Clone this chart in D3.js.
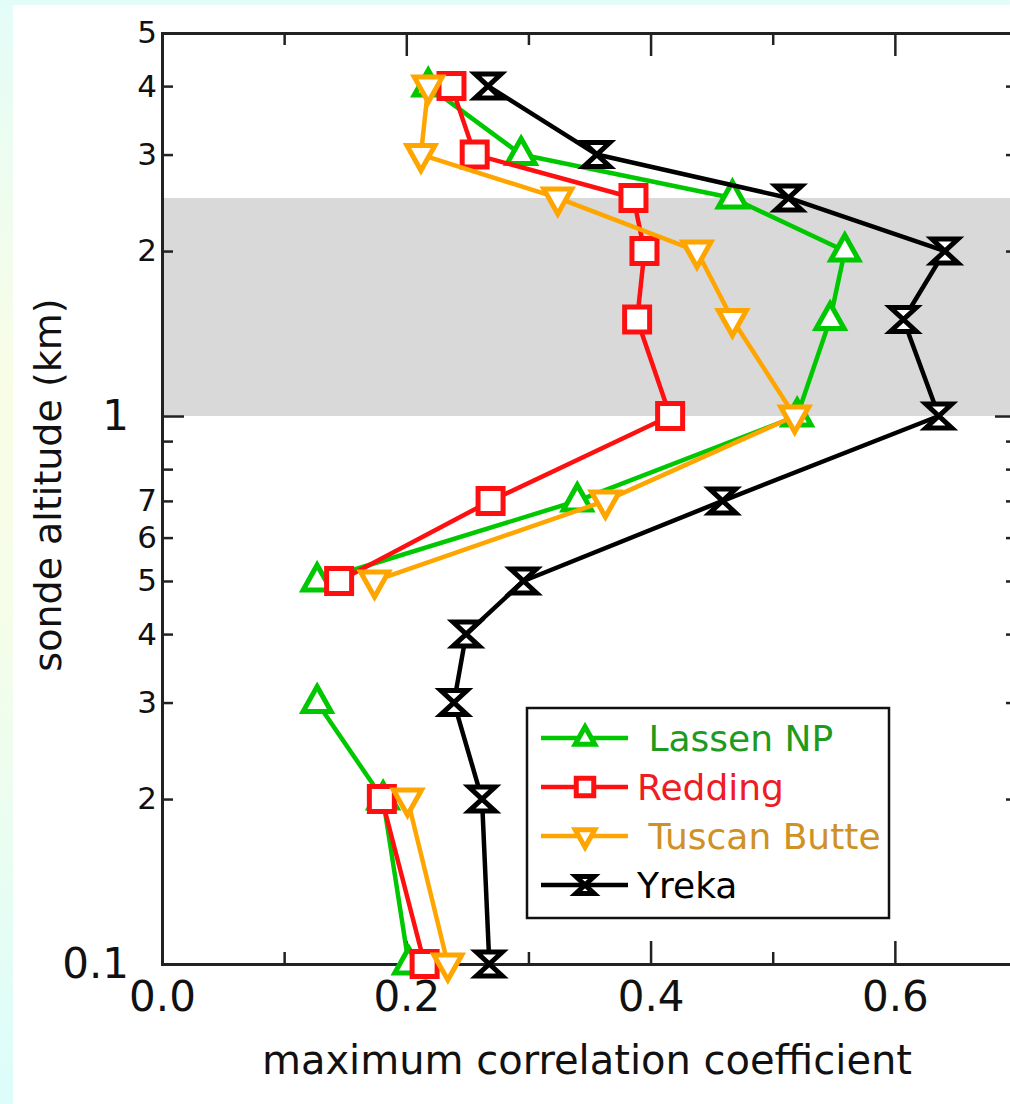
<!DOCTYPE html>
<html>
<head>
<meta charset="utf-8">
<script src="https://cdn.jsdelivr.net/npm/d3@7"></script>
<style>
  html, body { margin: 0; padding: 0; }
  body { width: 1010px; height: 1104px; overflow: hidden;
         background: linear-gradient(#e4fcf8 0%, #f9fde6 35%, #f6fde9 55%, #dcfdfb 100%); }
  svg { display: block; }
  text { font-family: "DejaVu Sans", "Liberation Sans", sans-serif; }
</style>
</head>
<body>
<div id="chart"></div>
<script>
// altitude levels (km)
var altitudes = [0.1, 0.2, 0.3, 0.4, 0.5, 0.7, 1, 1.5, 2, 2.5, 3, 4];
// maximum correlation coefficient per altitude (null = no data)
var lassen  = [0.202, 0.181, 0.127, null, 0.127, 0.340, 0.520, 0.547, 0.559, 0.467, 0.294, 0.218];
var redding = [0.215, 0.180, null, null, 0.145, 0.269, 0.416, 0.389, 0.395, 0.386, 0.256, 0.237];
var tuscan  = [0.234, 0.201, null, null, 0.174, 0.363, 0.518, 0.467, 0.438, 0.324, 0.212, 0.218];
var yreka   = [0.268, 0.262, 0.239, 0.249, 0.296, 0.459, 0.636, 0.607, 0.641, 0.513, 0.356, 0.267];

var seriesNames = [" Lassen NP", "Redding", " Tuscan Butte", "Yreka"];
var seriesColors = ["#00c800", "#ff1010", "#ffa500", "#000000"];
var labelColors = ["#1e9a1e", "#ee1c24", "#cf9024", "#000000"];
var seriesShapes = ["up", "square", "down", "hourglass"];

var xMajorTicks = [0, 0.2, 0.4, 0.6];
var xMajorLabels = ["0.0", "0.2", "0.4", "0.6"];
var xMinorTicks = [0.1, 0.3, 0.5];
var yDecadeTicks = [0.1, 1];
var yDecadeLabels = ["0.1", "1"];
var yMinorTicks = [0.2, 0.3, 0.4, 0.5, 0.6, 0.7, 0.8, 0.9, 2, 3, 4, 5];
var yMinorLabels = ["2", "3", "4", "5", "6", "7", "", "", "2", "3", "4", "5"];
var band = [1, 2.5];

var W = 1010, H = 1104;
var mLeft = 162, mRight = 1017, mTop = 33, mBottom = 964;

var svg = d3.select("#chart").append("svg").attr("width", W).attr("height", H);
svg.append("rect").attr("x", 13).attr("y", 5).attr("width", W).attr("height", H).attr("fill", "#fff");

var x = d3.scaleLinear().domain([0, 0.7]).range([mLeft, mRight]);
var y = d3.scaleLog().domain([0.1, 5]).range([mBottom, mTop]);

// shaded layer
svg.append("rect")
    .attr("x", x(0)).attr("width", x(0.7) - x(0))
    .attr("y", y(band[1])).attr("height", y(band[0]) - y(band[1]))
    .attr("fill", "#d9d9d9");

function styleAxis(g) {
    g.select(".domain").attr("stroke", "#222").attr("stroke-width", 3);
    g.selectAll(".tick line").attr("stroke", "#222").attr("stroke-width", 2.5);
    g.selectAll("text").attr("fill", "#111").attr("font-family", "DejaVu Sans, sans-serif");
}

// left axis
svg.append("g").attr("transform", "translate(" + mLeft + ",0)")
    .call(d3.axisLeft(y).tickValues(yMinorTicks).tickSize(-11).tickPadding(5)
        .tickFormat(function(d, i){ return yMinorLabels[i]; }))
    .call(styleAxis)
    .call(function(g){ g.selectAll("text").attr("font-size", 31); });
svg.append("g").attr("transform", "translate(" + mLeft + ",0)")
    .call(d3.axisLeft(y).tickValues(yDecadeTicks).tickSize(-22).tickPadding(33)
        .tickFormat(function(d, i){ return yDecadeLabels[i]; }))
    .call(styleAxis)
    .call(function(g){ g.selectAll("text").attr("font-size", 42); });

// right axis (ticks only)
svg.append("g").attr("transform", "translate(" + mRight + ",0)")
    .call(d3.axisRight(y).tickValues(yMinorTicks).tickSize(-11).tickFormat(""))
    .call(styleAxis);
svg.append("g").attr("transform", "translate(" + mRight + ",0)")
    .call(d3.axisRight(y).tickValues(yDecadeTicks).tickSize(-22).tickFormat(""))
    .call(styleAxis);

// bottom axis
svg.append("g").attr("transform", "translate(0," + mBottom + ")")
    .call(d3.axisBottom(x).tickValues(xMajorTicks).tickSize(-23).tickPadding(17)
        .tickFormat(function(d, i){ return xMajorLabels[i]; }))
    .call(styleAxis)
    .call(function(g){ g.selectAll("text").attr("font-size", 42); });
svg.append("g").attr("transform", "translate(0," + mBottom + ")")
    .call(d3.axisBottom(x).tickValues(xMinorTicks).tickSize(-12).tickFormat(""))
    .call(styleAxis);

// top axis
svg.append("g").attr("transform", "translate(0," + mTop + ")")
    .call(d3.axisTop(x).tickValues(xMajorTicks).tickSize(-23).tickFormat(""))
    .call(styleAxis);
svg.append("g").attr("transform", "translate(0," + mTop + ")")
    .call(d3.axisTop(x).tickValues(xMinorTicks).tickSize(-12).tickFormat(""))
    .call(styleAxis);

// axis titles
svg.append("text").attr("x", 587).attr("y", 1074).attr("text-anchor", "middle")
    .attr("font-size", 40).attr("fill", "#111").text("maximum correlation coefficient");
svg.append("text").attr("transform", "translate(61,485) rotate(-90)").attr("text-anchor", "middle")
    .attr("font-size", 38).attr("fill", "#111").text("sonde altitude (km)");

// marker shapes
function shapePath(kind, s) {
    if (kind === "up") return "M0," + (-16*s) + "L" + (14*s) + "," + (9*s) + "L" + (-14*s) + "," + (9*s) + "Z";
    if (kind === "down") return "M0," + (16*s) + "L" + (14*s) + "," + (-9*s) + "L" + (-14*s) + "," + (-9*s) + "Z";
    if (kind === "square") return "M" + (-12.5*s) + "," + (-12.5*s) + "H" + (12.5*s) + "V" + (12.5*s) + "H" + (-12.5*s) + "Z";
    return "M" + (-13*s) + "," + (-12*s) + "L" + (13*s) + "," + (-12*s) + "L" + (-13*s) + "," + (12*s) + "L" + (13*s) + "," + (12*s) + "Z";
}

var allSeries = [lassen, redding, tuscan, yreka];
var line = d3.line()
    .defined(function(d){ return d[1] !== null; })
    .x(function(d){ return x(d[1]); })
    .y(function(d){ return y(d[0]); });

allSeries.forEach(function(vals, k) {
    var pts = altitudes.map(function(a, i){ return [a, vals[i]]; });
    var g = svg.append("g");
    g.append("path").datum(pts).attr("d", line)
        .attr("fill", "none").attr("stroke", seriesColors[k]).attr("stroke-width", 4.5)
        .attr("stroke-linejoin", "round");
    g.selectAll("path.mk").data(pts.filter(function(d){ return d[1] !== null; }))
        .enter().append("path").attr("class", "mk")
        .attr("transform", function(d){ return "translate(" + x(d[1]) + "," + y(d[0]) + ")"; })
        .attr("d", shapePath(seriesShapes[k], 1))
        .attr("fill", "#fff").attr("stroke", seriesColors[k]).attr("stroke-width", 5);
});

// legend
var lg = svg.append("g").attr("transform", "translate(527,708)");
lg.append("rect").attr("width", 362).attr("height", 210)
    .attr("fill", "#fff").attr("stroke", "#111").attr("stroke-width", 2.5);
seriesNames.forEach(function(name, k) {
    var ry = 30 + k * 49;
    lg.append("line").attr("x1", 14).attr("x2", 101).attr("y1", ry).attr("y2", ry)
        .attr("stroke", seriesColors[k]).attr("stroke-width", 4.5);
    lg.append("path").attr("transform", "translate(58," + ry + ")")
        .attr("d", shapePath(seriesShapes[k], 0.7))
        .attr("fill", "#fff").attr("stroke", seriesColors[k]).attr("stroke-width", 5);
    lg.append("text").attr("x", 110).attr("y", ry + 13).attr("font-size", 36)
        .attr("fill", labelColors[k]).style("white-space", "pre").text(name);
});
</script>
</body>
</html>
